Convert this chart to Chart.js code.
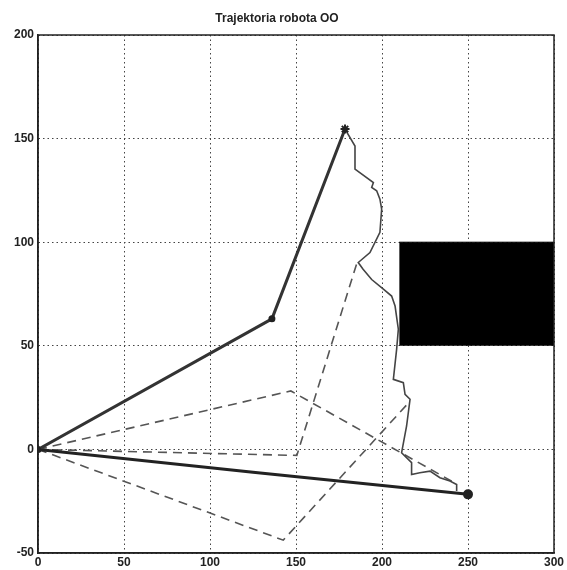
<!DOCTYPE html>
<html>
<head>
<meta charset="utf-8">
<script src="https://cdn.jsdelivr.net/npm/chart.js@4.4.1/dist/chart.umd.min.js"></script>
<style>
  html, body { margin: 0; padding: 0; background: #fff; }
  #wrap { width: 567px; height: 570px; }
</style>
</head>
<body>
<div id="wrap"><canvas id="robotChart" width="567" height="570"></canvas></div>
<script>
// arm poses: x and y of base, elbow, tip
const armStartX = [0, 136, 178.5];
const armStartY = [0, 63, 154.6];
const armEndX = [0, 125, 250];
const armEndY = [0, -11, -21.7];

const dashAX = [0, 147, 243];
const dashAY = [0, 28.2, -16.5];
const dashBX = [0, 150.5, 185.5];
const dashBY = [0, -2.9, 90.2];
const dashCX = [0, 142.6, 216];
const dashCY = [0, -43.8, 23];

// path of the end effector
const trajX = [178.5, 184.3, 184.3, 195, 194, 196.9, 198.8, 199.8, 198.8, 193, 186.2, 189, 194,
               200.8, 205.6, 207.6, 209.5, 208.5, 206.6, 212.4, 213.4, 216.3, 214.3, 211.4,
               217.2, 217.2, 222, 227.9, 233.7, 239.5, 243.4, 243.4];
const trajY = [154.6, 146.4, 135.3, 128.8, 126.4, 124.8, 120.8, 116, 104.8, 95, 90.2, 87, 82,
               77.3, 74, 69.2, 58, 48.3, 33.8, 32.2, 26.6, 24.2, 11.3, -1.6,
               -6.4, -12.1, -11.3, -10.5, -13.7, -15.3, -16.9, -20.1];

// obstacle
const obstacleX = [210, 300];
const obstacleTop = 100;
const obstacleBottom = 50;

const xTicks = [0, 50, 100, 150, 200, 250, 300];
const yTicks = [-50, 0, 50, 100, 150, 200];

function toPoints(xs, ys){
    return xs.map((x, i) => ({ x: x, y: ys[i] }));
}

const boxPlugin = {
    id: "boxPlugin",
    afterDraw(chart){
        const a = chart.chartArea;
        const ctx = chart.ctx;
        ctx.save();
        ctx.strokeStyle = "#222";
        ctx.lineWidth = 1.5;
        ctx.strokeRect(a.left, a.top, a.right - a.left, a.bottom - a.top);
        ctx.restore();
    }
};

const tickFont = { family: "'Liberation Sans Narrow', 'Liberation Sans', Arial", size: 12, weight: "bold" };

const ctx = document.getElementById("robotChart").getContext("2d");

new Chart(ctx, {
    type: "scatter",
    data: {
        datasets: [
            {
                data: toPoints(armStartX, armStartY),
                showLine: true,
                borderColor: "#333",
                borderWidth: 3,
                pointRadius: [2, 2.5, 4.5],
                pointStyle: ["circle", "circle", "star"],
                pointBorderWidth: 2,
                pointBorderColor: "#222",
                pointBackgroundColor: "#222"
            },
            {
                data: toPoints(armEndX, armEndY),
                showLine: true,
                borderColor: "#222",
                borderWidth: 3,
                pointRadius: [2, 0, 3.5],
                pointBorderColor: "#222",
                pointBackgroundColor: "#222"
            },
            {
                data: toPoints(trajX, trajY),
                showLine: true,
                borderColor: "#444",
                borderWidth: 1.6,
                pointRadius: 0
            },
            {
                data: toPoints(dashAX, dashAY),
                showLine: true,
                borderColor: "#555",
                borderWidth: 1.6,
                borderDash: [9, 6],
                pointRadius: 0
            },
            {
                data: toPoints(dashBX, dashBY),
                showLine: true,
                borderColor: "#555",
                borderWidth: 1.6,
                borderDash: [9, 6],
                pointRadius: 0
            },
            {
                data: toPoints(dashCX, dashCY),
                showLine: true,
                borderColor: "#555",
                borderWidth: 1.6,
                borderDash: [9, 6],
                pointRadius: 0
            },
            {
                data: toPoints(obstacleX, [obstacleTop, obstacleTop]),
                showLine: true,
                borderColor: "#000",
                borderWidth: 1,
                backgroundColor: "#000",
                fill: { value: obstacleBottom },
                pointRadius: 0
            }
        ]
    },
    plugins: [boxPlugin],
    options: {
        responsive: false,
        animation: false,
        layout: { padding: { left: 0, right: 13, top: 0, bottom: 0 } },
        plugins: {
            legend: { display: false },
            tooltip: { enabled: false },
            title: {
                display: true,
                text: "Trajektoria robota OO",
                color: "#222",
                font: { family: "'Liberation Sans Narrow', 'Liberation Sans', Arial", size: 12, weight: "bold", lineHeight: 1.2 },
                padding: { top: 11, bottom: 9.6 }
            }
        },
        scales: {
            x: {
                type: "linear",
                min: 0,
                max: 300,
                afterBuildTicks: scale => { scale.ticks = xTicks.map(v => ({ value: v })); },
                afterFit: scale => { scale.height = 17; },
                ticks: { color: "#222", font: tickFont, padding: 2, maxRotation: 0 },
                grid: { color: "#444", lineWidth: 1, drawTicks: false },
                border: { display: true, color: "#222", width: 1.5, dash: [1.5, 3] }
            },
            y: {
                type: "linear",
                min: -50,
                max: 200,
                afterBuildTicks: scale => { scale.ticks = yTicks.map(v => ({ value: v })); },
                afterFit: scale => { scale.width = 38; },
                ticks: { color: "#222", font: tickFont, padding: 4 },
                grid: { color: "#444", lineWidth: 1, drawTicks: false },
                border: { display: true, color: "#222", width: 1.5, dash: [1.5, 3] }
            }
        }
    }
});
</script>
</body>
</html>
